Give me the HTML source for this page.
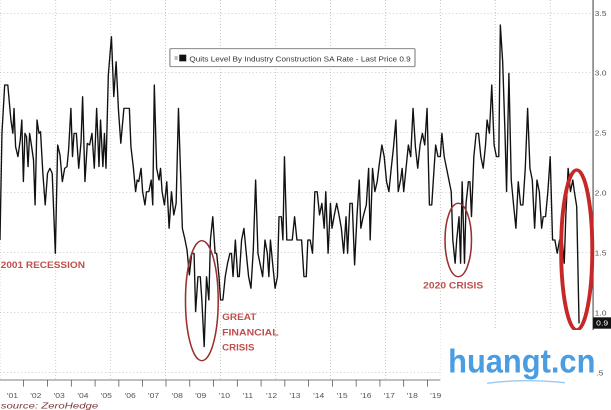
<!DOCTYPE html>
<html><head><meta charset="utf-8"><style>
html,body{margin:0;padding:0;background:#fff;}
svg{display:block;}
</style></head><body>
<svg width="611" height="410" viewBox="0 0 1568 1230" preserveAspectRatio="none" xmlns="http://www.w3.org/2000/svg" font-family="Liberation Sans, sans-serif">
<rect width="1568" height="1230" fill="#fff"/>
<g stroke="#bbb" stroke-width="2" stroke-dasharray="3,6">
<line x1="0" y1="40" x2="1522" y2="40"/><line x1="0" y1="218" x2="1522" y2="218"/><line x1="0" y1="398" x2="1522" y2="398"/><line x1="0" y1="578" x2="1522" y2="578"/><line x1="0" y1="758" x2="1522" y2="758"/><line x1="0" y1="938" x2="1522" y2="938"/><line x1="0" y1="1118" x2="1522" y2="1118"/>
<line x1="0" y1="0" x2="0" y2="1140"/>
<line x1="143" y1="0" x2="143" y2="1140"/><line x1="284" y1="0" x2="284" y2="1140"/><line x1="425" y1="0" x2="425" y2="1140"/><line x1="566" y1="0" x2="566" y2="1140"/><line x1="707" y1="0" x2="707" y2="1140"/><line x1="848" y1="0" x2="848" y2="1140"/><line x1="989" y1="0" x2="989" y2="1140"/><line x1="1130" y1="0" x2="1130" y2="1140"/><line x1="1271" y1="0" x2="1271" y2="1140"/><line x1="1412" y1="0" x2="1412" y2="1140"/>
</g>
<line x1="1522" y1="0" x2="1522" y2="1000" stroke="#555" stroke-width="3"/>
<line x1="0" y1="1140" x2="1130" y2="1140" stroke="#555" stroke-width="2"/>
<g stroke="#555" stroke-width="2">
<line x1="60" y1="1140" x2="60" y2="1160"/><line x1="122" y1="1140" x2="122" y2="1160"/><line x1="183" y1="1140" x2="183" y2="1160"/><line x1="244" y1="1140" x2="244" y2="1160"/><line x1="305" y1="1140" x2="305" y2="1160"/><line x1="366" y1="1140" x2="366" y2="1160"/><line x1="426" y1="1140" x2="426" y2="1160"/><line x1="487" y1="1140" x2="487" y2="1160"/><line x1="548" y1="1140" x2="548" y2="1160"/><line x1="609" y1="1140" x2="609" y2="1160"/><line x1="670" y1="1140" x2="670" y2="1160"/><line x1="731" y1="1140" x2="731" y2="1160"/><line x1="792" y1="1140" x2="792" y2="1160"/><line x1="853" y1="1140" x2="853" y2="1160"/><line x1="914" y1="1140" x2="914" y2="1160"/><line x1="975" y1="1140" x2="975" y2="1160"/><line x1="1036" y1="1140" x2="1036" y2="1160"/><line x1="1097" y1="1140" x2="1097" y2="1160"/>
</g>
<g font-size="22" fill="#555" text-anchor="middle">
<text x="32" y="1194">'01</text><text x="92" y="1194">'02</text><text x="152" y="1194">'03</text><text x="213" y="1194">'04</text><text x="273" y="1194">'05</text><text x="334" y="1194">'06</text><text x="394" y="1194">'07</text><text x="455" y="1194">'08</text><text x="515" y="1194">'09</text><text x="576" y="1194">'10</text><text x="636" y="1194">'11</text><text x="697" y="1194">'12</text><text x="757" y="1194">'13</text><text x="818" y="1194">'14</text><text x="878" y="1194">'15</text><text x="939" y="1194">'16</text><text x="999" y="1194">'17</text><text x="1058" y="1194">'18</text><text x="1118" y="1194">'19</text>
</g>
<text x="2" y="1225" font-size="24" font-style="italic" fill="#7a3a3a" textLength="250" lengthAdjust="spacingAndGlyphs">source: ZeroHedge</text>
<g font-size="22" fill="#555">
<text x="1526" y="48">3.5</text><text x="1526" y="226">3.0</text><text x="1526" y="406">2.5</text><text x="1526" y="586">2.0</text><text x="1526" y="766">1.5</text><text x="1526" y="946">1.0</text>
</g>
<rect x="1522" y="952" width="46" height="34" fill="#111"/>
<text x="1530" y="977" font-size="22" fill="#fff">0.9</text>
<rect x="436" y="146" width="629" height="54" fill="#fff" stroke="#888" stroke-width="3" rx="3"/>
<rect x="448" y="168" width="8" height="12" fill="#bbb"/><rect x="460" y="164" width="18" height="20" fill="#111"/>
<text x="486" y="184" font-size="22" fill="#333" textLength="568" lengthAdjust="spacingAndGlyphs">Quits Level By Industry Construction SA Rate - Last Price 0.9</text>
<polyline fill="none" stroke="#111" stroke-width="3.5" stroke-linejoin="round" points="0,720 5,400 12,255 20,255 28,360 33,400 36,325 40,440 46,470 52,420 56,360 60,545 64,400 68,410 72,500 76,400 80,430 86,480 90,615 95,360 100,400 104,395 110,520 116,615 122,520 128,505 134,520 142,760 148,435 154,465 160,545 166,505 172,500 176,450 182,325 186,470 190,400 196,400 202,505 208,425 212,290 218,545 224,430 230,435 236,400 242,505 248,325 254,500 258,360 264,500 268,400 272,505 278,225 286,110 292,290 298,185 304,330 310,430 318,325 332,325 336,440 342,500 348,575 352,540 356,545 362,505 366,575 372,615 376,575 382,575 388,540 392,615 396,255 402,505 408,540 412,505 416,575 422,615 428,545 434,685 440,575 446,645 452,610 458,325 462,470 468,685 474,715 480,750 486,825 492,760 498,760 502,935 508,830 514,830 518,900 524,1040 530,830 536,900 540,720 546,650 552,760 556,760 562,830 566,900 572,900 578,830 584,790 590,760 594,760 598,830 604,720 610,830 614,830 620,720 626,685 632,760 638,830 644,865 650,750 656,540 662,760 668,795 674,830 680,720 686,760 690,830 694,720 700,795 706,865 712,830 716,650 722,650 726,720 730,470 736,720 744,720 750,720 756,650 762,720 768,720 774,720 780,830 786,830 790,720 796,720 802,760 808,575 814,575 820,645 826,610 832,685 836,575 842,760 848,610 852,685 858,645 864,610 870,645 876,685 882,760 888,650 892,760 898,610 904,610 910,795 916,650 922,540 926,685 932,650 940,615 946,505 950,720 956,505 962,575 968,545 972,505 980,435 986,470 992,545 998,575 1004,505 1010,440 1016,360 1022,575 1028,540 1032,505 1036,575 1042,505 1048,435 1054,470 1060,325 1066,440 1072,505 1078,435 1084,400 1090,435 1096,325 1102,615 1108,615 1114,505 1118,435 1124,470 1130,470 1134,400 1140,470 1146,505 1152,540 1158,575 1162,720 1168,790 1172,720 1178,650 1182,790 1186,545 1192,790 1196,610 1202,545 1206,545 1210,650 1216,470 1222,400 1228,400 1234,470 1240,505 1246,435 1250,360 1256,400 1262,255 1268,435 1274,470 1280,470 1284,75 1290,185 1296,400 1300,575 1306,220 1312,540 1318,615 1324,685 1330,545 1336,615 1342,615 1348,505 1354,325 1360,505 1366,540 1372,685 1378,540 1384,575 1390,685 1394,650 1400,650 1406,575 1412,470 1418,720 1424,720 1430,760 1436,720 1442,710 1448,790 1452,650 1458,505 1464,575 1470,540 1474,575 1480,620 1486,970"/>
<ellipse cx="518" cy="902" rx="42" ry="180" fill="none" stroke="#9b2f2f" stroke-width="4"/>
<ellipse cx="1176" cy="720" rx="34" ry="110" fill="none" stroke="#9b2f2f" stroke-width="4"/>
<ellipse cx="1480" cy="750" rx="40" ry="240" fill="none" stroke="#c62828" stroke-width="10"/>
<g font-size="28" font-weight="bold" fill="#c0504d" lengthAdjust="spacingAndGlyphs">
<text x="2" y="804" textLength="216" lengthAdjust="spacingAndGlyphs">2001 RECESSION</text>
<text x="570" y="960" textLength="88" lengthAdjust="spacingAndGlyphs">GREAT</text><text x="570" y="1006" textLength="145" lengthAdjust="spacingAndGlyphs">FINANCIAL</text><text x="570" y="1052" textLength="83" lengthAdjust="spacingAndGlyphs">CRISIS</text>
<text x="1086" y="865" textLength="154" lengthAdjust="spacingAndGlyphs">2020 CRISIS</text>
</g>
<rect x="1130" y="990" width="438" height="150" fill="#fff"/>
<text x="1150" y="1118" font-size="100" font-weight="bold" fill="#4a9de0" textLength="378" lengthAdjust="spacingAndGlyphs">huangt.cn</text>
<path d="M1250,1150 Q1340,1135 1450,1148" stroke="#9ccaf0" stroke-width="4" fill="none"/>
<text x="1530" y="1126" font-size="22" fill="#555">.5</text>
</svg>
</body></html>
